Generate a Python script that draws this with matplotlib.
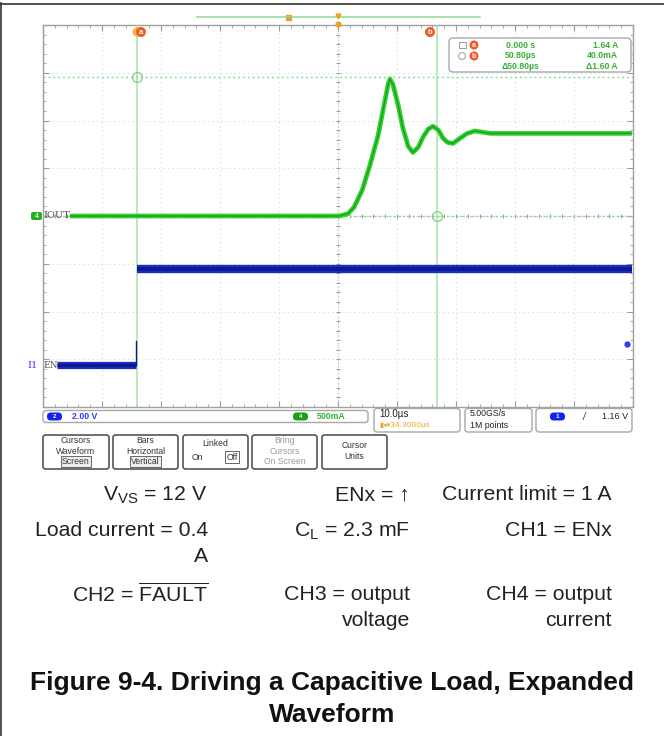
import numpy as np
import matplotlib
matplotlib.use("Agg")
import matplotlib.pyplot as plt
from matplotlib.patches import FancyBboxPatch, Circle, Rectangle

plt.rcParams['font.family'] = ['Liberation Sans', 'DejaVu Sans']
plt.rcParams['mathtext.fontset'] = 'custom'
plt.rcParams['mathtext.rm'] = 'Liberation Sans'
plt.rcParams['mathtext.it'] = 'Liberation Sans'

# ---------------- data (time in us, amplitude in divisions) ----------------
iout_t = [4.6, 50.3, 51.7, 52.7, 54.1, 55.4, 56.8, 57.8, 58.5, 58.8, 59.3, 60.2,
          61.0, 61.9, 62.7, 63.6, 64.4, 65.3, 66.1, 67.0, 67.8, 68.6, 69.5, 70.7,
          71.9, 73.2, 75.8, 99.8]
iout_div = [0.0, 0.0, 0.05, 0.18, 0.54, 1.06, 1.69, 2.32, 2.76, 2.87, 2.76, 2.32,
            1.84, 1.46, 1.33, 1.44, 1.65, 1.82, 1.88, 1.80, 1.63, 1.54, 1.52, 1.63,
            1.73, 1.78, 1.73, 1.73]
en_low_t = [2.4, 15.8]
en_low_div = [-3.13, -3.13]
en_edge_t = [15.8, 15.8]
en_edge_div = [-3.13, -2.62]
en_high_t = [15.9, 99.8]
en_high_div = [-1.12, -1.12]

cursor_t = [15.9, 66.7]
cursor_level_div = [2.91, 0.0]
trig_level_div = -2.68

readout_rows = [["0.000 s", "1.64 A"], ["50.80µs", "40.0mA"], ["Δ50.80µs", "Δ1.60 A"]]
ch2_scale = "2.00 V"
ch4_scale = "500mA"
timebase = "10.0µs"
trig_pos = "\u25AE\u25C2\u25BE34.3000µs"
sample_rate = ["5.00GS/s", "1M points"]
trig_value = "1.16 V"

W, H = 664, 736
fig = plt.figure(figsize=(W / 100, H / 100), dpi=100)

# ---------------- scope screen ----------------
L, T, R, B = 43, 25, 633, 407
ax = fig.add_axes([L / W, 1 - B / H, (R - L) / W, (B - T) / H])
ax.set_xlim(0, 100)
ax.set_ylim(-4, 4)
ax.set_xticks(np.arange(0, 101, 10))
ax.set_yticks(np.arange(-4, 5, 1))
ax.set_xticks(np.arange(0, 100.1, 2), minor=True)
ax.set_yticks(np.arange(-4, 4.01, 0.2), minor=True)
ax.tick_params(which='both', direction='in', top=True, right=True,
               labelbottom=False, labelleft=False, color='#9a9a9a')
ax.tick_params(which='major', length=4, width=0.8)
ax.tick_params(which='minor', length=2.5, width=0.6)
for s in ax.spines.values():
    s.set_color('#a0a0a0')
    s.set_linewidth(1.0)
ax.grid(True, which='major', color='#d8d8d8', linestyle=(0, (1, 3)), linewidth=0.8)

# center crosshair with ticks
ax.axvline(50, color='#b8b8b8', lw=0.8, linestyle=(0, (1, 2)))
ax.axhline(0, color='#b8b8b8', lw=0.8, linestyle=(0, (1, 2)))
mx = np.arange(0, 100.1, 2)
my = np.arange(-4, 4.01, 0.2)
ax.plot(mx, np.zeros_like(mx), linestyle='none', marker='|', ms=3, color='#9a9a9a', mew=0.7)
ax.plot(np.full_like(my, 50), my, linestyle='none', marker='_', ms=3, color='#9a9a9a', mew=0.7)

# cursors
for ct in cursor_t:
    ax.axvline(ct, color='#a6e6a6', lw=1.1, zorder=3)
for cl in cursor_level_div:
    ax.axhline(cl, color='#8fd98f', lw=1.0, linestyle=(0, (1.5, 2)), zorder=3)
ax.plot([cursor_t[0], cursor_t[1]], cursor_level_div, linestyle='none', marker='o',
        ms=7, mfc='none', mec='#7fd07f', mew=0.9, zorder=4)

# traces
ax.plot(en_low_t, en_low_div, color='#1a2cc4', lw=5.2, solid_capstyle='butt', zorder=5)
ax.plot(en_low_t, en_low_div, color='#0c1890', lw=2.2, solid_capstyle='butt', zorder=5)
ax.plot(en_edge_t, en_edge_div, color='#0c1890', lw=1.0, zorder=5)
ax.plot(en_high_t, en_high_div, color='#1a2cc4', lw=6.0, solid_capstyle='butt', zorder=5)
ax.plot(en_high_t, en_high_div, color='#0c1890', lw=2.6, solid_capstyle='butt', zorder=5)
ax.plot(iout_t, iout_div, color='#2fd22f', lw=3.4, solid_capstyle='butt',
        solid_joinstyle='round', zorder=6)
ax.plot(iout_t, iout_div, color='#168a16', lw=1.0, alpha=0.7, zorder=6)
ax.plot([99.0], [trig_level_div], marker='o', ms=3.5, color='#2a3cff', zorder=6, clip_on=False)

# ---------------- overlay (pixel coordinates) ----------------
ov = fig.add_axes([0, 0, 1, 1], zorder=10)
ov.set_xlim(0, W)
ov.set_ylim(H, 0)
ov.axis('off')
ov.patch.set_visible(False)

ov.plot([1.2, 1.2], [3, H], color='#333333', lw=1.2)
ov.plot([0, W], [3.5, 3.5], color='#333333', lw=1.2)

# top timeline
ov.plot([197, 480], [17, 17], color='#8fd88f', lw=1.1)
ov.add_patch(Rectangle((285.5, 14.5), 5, 5, color='#f0a020'))
ov.plot([338], [16], marker='v', ms=3.5, color='#f0a020')
ov.plot([338], [24], marker='o', ms=3.5, color='#f0a020')

def badge(x, y, r, fc, txt, tc='white', fs=5.5):
    ov.add_patch(Circle((x, y), r, fc=fc, ec='none'))
    ov.text(x, y + 0.3, txt, color=tc, fontsize=fs, ha='center', va='center', fontweight='bold')

ov.add_patch(Circle((137, 32), 4.5, fc='#f7b53c', ec='none'))
badge(141, 32, 5, '#f25a26', 'a')
badge(430, 32, 5, '#f25a26', 'b')

# readout box
ov.add_patch(FancyBboxPatch((449, 38), 182, 34, boxstyle='round,pad=0,rounding_size=4',
                            fc='white', ec='#a8a8a8', lw=1.0))
ov.add_patch(Rectangle((459, 41.5), 6.5, 6.5, fc='none', ec='#9a9a9a', lw=0.7))
ov.add_patch(Circle((462, 56), 3.4, fc='none', ec='#9a9a9a', lw=0.7))
badge(474, 45, 4.5, '#f25a26', 'a', fs=5)
badge(474, 56, 4.5, '#f25a26', 'b', fs=5)
gcol = '#34b034'
for i, (a, b) in enumerate(readout_rows):
    yy = 45.5 + i * 10.5
    ov.text(521, yy, a, color=gcol, fontsize=6.2, ha='center', va='center', fontweight='bold')
    ov.text(618, yy, b, color=gcol, fontsize=6.2, ha='right', va='center', fontweight='bold')

# channel labels at left edge
ov.add_patch(FancyBboxPatch((31, 212), 11, 8, boxstyle='round,pad=0,rounding_size=2',
                            fc='#22b022', ec='none'))
ov.text(36.5, 216.3, '4', color='white', fontsize=5, ha='center', va='center', fontweight='bold')
ov.text(43, 216, 'IOUT', color='#555555', fontsize=7, ha='left', va='center', family='DejaVu Serif')
ov.text(33, 365.5, 'I1', color='#2a3cff', fontsize=7, ha='center', va='center', family='DejaVu Serif')
ov.text(43, 365.5, 'EN', color='#555555', fontsize=6.5, ha='left', va='center', family='DejaVu Serif')

# status bar
def box(x0, y0, w, h, ec='#a8a8a8', lw=1.0, r=3):
    ov.add_patch(FancyBboxPatch((x0, y0), w, h, boxstyle=f'round,pad=0,rounding_size={r}',
                                fc='white', ec=ec, lw=lw))

def pill(x0, y0, w, h, fc, txt):
    ov.add_patch(FancyBboxPatch((x0, y0), w, h, boxstyle='round,pad=0,rounding_size=3.8',
                                fc=fc, ec='none'))
    ov.text(x0 + w / 2, y0 + h / 2 + 0.3, txt, color='white', fontsize=4.5,
            ha='center', va='center', fontweight='bold')

box(43, 410.5, 325, 12)
pill(47, 412.5, 15, 8, '#1424f0', '2')
ov.text(72, 416.5, ch2_scale, color='#2a3cff', fontsize=6.3, ha='left', va='center', fontweight='bold')
pill(293, 412.5, 15, 8, '#18a018', '4')
ov.text(317, 416.5, ch4_scale, color=gcol, fontsize=6.3, ha='left', va='center', fontweight='bold')

box(374, 408.5, 86, 23.5)
ov.text(379, 414, timebase, color='#222222', fontsize=7, ha='left', va='center')
ov.text(379, 425, trig_pos, color='#f0a020', fontsize=5.3, ha='left', va='center', family='DejaVu Sans')
box(465, 408.5, 67, 23.5)
ov.text(470, 414, sample_rate[0], color='#222222', fontsize=6.3, ha='left', va='center')
ov.text(470, 425, sample_rate[1], color='#222222', fontsize=6.3, ha='left', va='center')
box(536, 408.5, 96, 23.5)
pill(550, 412.5, 15, 8, '#1424f0', '1')
ov.text(584, 416.5, '/', color='#222222', fontsize=7, ha='center', va='center', style='italic')
ov.text(628, 416.5, trig_value, color='#222222', fontsize=6.5, ha='right', va='center')

# soft-key buttons
bfs = 6.2
buttons = [
    (43, 109, ["Cursors", "Waveform", "Screen"], 2, '#333333'),
    (113, 178, ["Bars", "Horizontal", "Vertical"], 2, '#333333'),
    (252, 317, ["Bring", "Cursors", "On Screen"], None, '#9a9a9a'),
]
for x0, x1, lines, boxed, col in buttons:
    box(x0, 435, x1 - x0, 34, ec='#555555', lw=1.2, r=2.5)
    for i, s in enumerate(lines):
        yy = 440.5 + i * 10.5
        t = ov.text((x0 + x1) / 2, yy, s, color=col, fontsize=bfs, ha='center', va='center')
        if boxed == i:
            t.set_bbox(dict(boxstyle='square,pad=0.15', fc='#eeeeee', ec='#666666', lw=0.7))
box(183, 435, 65, 34, ec='#555555', lw=1.2, r=2.5)
ov.text(215.5, 443, "Linked", color='#333333', fontsize=bfs, ha='center', va='center')
ov.text(197, 457, "On", color='#333333', fontsize=bfs, ha='center', va='center')
ov.text(232, 457, "Off", color='#333333', fontsize=bfs, ha='center', va='center',
        bbox=dict(boxstyle='square,pad=0.2', fc='white', ec='#666666', lw=0.7))
box(322, 435, 65, 34, ec='#555555', lw=1.2, r=2.5)
ov.text(354.5, 446, "Cursor", color='#333333', fontsize=bfs, ha='center', va='center')
ov.text(354.5, 456.5, "Units", color='#333333', fontsize=bfs, ha='center', va='center')

# ---------------- conditions text ----------------
tc = '#222222'
fs = 15.3
cond = [
    (208, 495, r"V$_{\mathregular{VS}}$ = 12 V"),
    (410, 495, "ENx = \u2191"),
    (612, 495, "Current limit = 1 A"),
    (208, 531, "Load current = 0.4"),
    (208, 557, "A"),
    (410, 531, r"C$_{\mathregular{L}}$ = 2.3 mF"),
    (612, 531, "CH1 = ENx"),
    (208, 594, r"CH2 = $\overline{\mathregular{FAULT}}$"),
    (410, 594, "CH3 = output"),
    (410, 620, "voltage"),
    (612, 594, "CH4 = output"),
    (612, 620, "current"),
]
for x, y, s in cond:
    ov.text(x, y, s, color=tc, fontsize=fs, ha='right', va='center')

ov.text(332, 683, "Figure 9-4. Driving a Capacitive Load, Expanded", color='#111111',
        fontsize=19, fontweight='bold', ha='center', va='center')
ov.text(332, 715, "Waveform", color='#111111', fontsize=19, fontweight='bold',
        ha='center', va='center')

fig.savefig('out.png', dpi=100)
